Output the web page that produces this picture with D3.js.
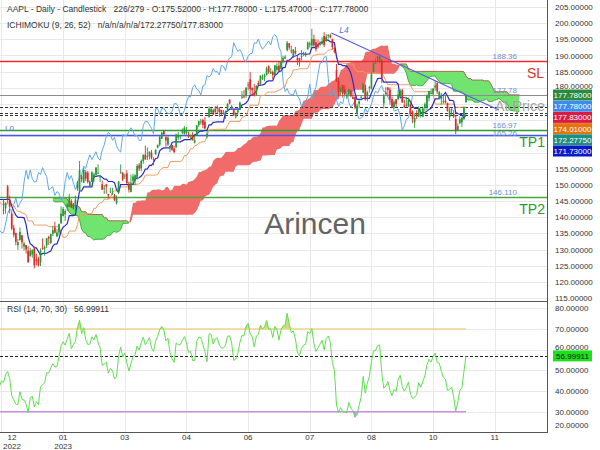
<!DOCTYPE html>
<html><head><meta charset="utf-8">
<script src="https://cdn.jsdelivr.net/npm/d3@7"></script>
<style>body{margin:0;background:#fff}svg{display:block;font-family:"Liberation Sans",Arial,sans-serif}</style>
</head><body><svg id="c" width="600" height="450"></svg>
<script>
// AAPL daily [open, high, low, close] – history before the visible window (Sep 26 – Dec 8 2022)
const priorBars = [
[149.66,153.77,149.64,150.77],[152.74,154.72,149.95,151.76],[147.64,150.64,144.84,149.84],[146.10,146.72,140.68,142.48],[141.28,143.10,138.00,138.20],
[138.21,143.07,137.69,142.45],[145.03,146.22,144.26,146.10],[144.07,147.38,143.01,146.40],[145.81,147.54,145.22,145.43],[142.54,143.10,139.45,140.09],
[140.42,141.89,138.57,140.42],[139.90,141.35,138.22,138.98],[139.13,140.36,138.16,138.34],[134.99,143.59,134.37,142.99],[144.31,144.52,138.19,138.38],
[141.07,142.90,140.27,142.41],[145.49,146.70,140.61,143.75],[141.69,144.95,141.50,143.86],[143.02,145.89,142.65,143.39],[142.87,147.85,142.65,147.27],
[147.19,150.23,146.00,149.45],[150.09,152.49,149.36,152.34],[150.96,151.99,148.04,149.35],[148.07,149.05,144.13,144.80],[148.20,157.50,147.82,155.74],
[153.16,154.24,151.92,153.34],
[155.08,155.45,149.13,150.65],[148.95,152.17,145.00,145.03],[142.06,142.80,138.75,138.88],[142.09,142.67,134.38,138.38],
[137.11,139.15,135.67,138.92],[140.41,141.43,137.49,139.50],[138.50,138.55,134.59,134.87],[141.24,146.87,139.50,146.87],[145.82,150.01,144.37,149.70],
[148.97,150.28,147.43,148.28],[152.22,153.59,148.56,150.04],[149.13,149.87,147.29,148.79],[146.43,151.48,146.15,150.72],[152.31,152.70,149.97,151.29],
[150.16,150.37,147.72,148.01],[148.13,150.42,146.93,150.18],[149.45,151.83,149.34,151.07],[148.31,148.88,147.12,148.11],
[145.14,146.64,143.38,144.22],[144.29,144.81,140.35,141.17],[141.40,148.72,140.55,148.03],
[148.21,149.13,146.61,148.31],[145.96,148.00,145.65,147.81],[147.77,150.92,145.77,146.63],[147.07,147.30,141.92,142.91],[142.19,143.37,140.00,140.94],[142.36,143.52,141.10,142.65]
];
// visible candles (Dec 9 2022 – Nov 2 2023)
const candles = [
[142.34,145.57,140.90,142.16],[142.70,144.50,141.06,144.49],[149.50,149.97,144.24,145.47],[145.35,146.66,141.16,143.21],[141.11,141.80,136.03,136.50],
[136.69,137.65,133.73,134.51],[135.11,135.20,131.32,132.37],[131.39,133.25,129.89,132.30],[132.98,136.81,132.75,135.45],[134.35,134.56,130.30,132.23],
[130.92,132.42,129.64,131.86],[131.38,131.41,128.72,130.03],[129.67,131.03,125.87,126.04],[127.99,130.48,127.73,129.61],[128.41,129.95,127.43,129.93],
[130.28,130.90,124.17,125.07],[126.89,128.66,125.08,126.36],[127.13,127.77,124.76,125.02],[126.01,130.29,124.89,129.62],[130.47,133.41,129.89,130.15],
[130.26,131.26,128.12,130.73],[131.25,133.51,130.46,133.49],[133.88,134.26,131.44,133.41],[132.03,134.92,131.66,134.76],[134.83,137.29,134.13,135.94],
[136.82,138.61,135.03,135.21],[134.08,136.25,133.77,135.27],[135.28,138.02,134.22,137.87],[138.12,143.32,137.90,141.11],[140.31,143.16,140.30,142.53],
[140.89,142.43,138.81,141.86],[143.17,144.25,141.90,143.96],[143.16,147.23,143.08,145.93],[144.96,145.55,142.85,143.00],[142.70,144.34,142.28,144.29],
[143.97,146.61,141.32,145.43],[148.90,151.18,148.17,150.82],[148.03,157.38,147.83,154.50],[152.57,153.10,150.78,151.73],[150.64,155.23,150.64,154.65],
[153.88,154.58,151.17,151.92],[153.78,154.33,150.42,150.87],[149.46,151.34,149.22,151.01],[150.95,154.26,150.92,153.85],[152.12,153.77,150.86,153.20],
[153.11,155.50,152.88,155.33],[153.51,156.33,153.35,153.71],[152.35,153.00,150.85,152.55],[150.20,151.30,148.41,148.48],[148.87,149.95,147.16,148.91],
[150.09,150.34,147.24,149.40],[147.11,147.19,145.72,146.71],[147.71,149.17,147.45,147.92],[147.05,149.08,146.83,147.41],
[146.83,147.23,145.01,145.31],[144.38,146.71,143.90,145.91],[148.04,151.11,147.33,151.03],[153.79,156.30,153.46,153.83],[153.70,154.03,151.13,151.60],
[152.81,153.47,151.83,152.87],[153.56,154.54,150.23,150.59],[150.21,150.94,147.61,148.50],[147.81,153.14,147.70,150.47],[151.28,153.40,150.10,152.59],
[151.19,153.25,149.92,152.99],[152.16,156.46,151.64,155.85],[156.08,156.74,154.28,155.00],[155.07,157.82,154.15,157.40],[157.32,159.40,156.54,159.28],
[159.30,162.14,157.81,157.83],[158.83,161.55,157.68,158.93],[158.86,160.34,157.85,160.25],[159.94,160.77,157.87,158.28],[157.97,158.49,155.98,157.65],
[159.37,161.05,159.35,160.77],[161.53,162.47,161.27,162.36],[162.44,165.00,161.91,164.90],
[164.27,166.29,164.22,166.17],[166.60,166.84,165.11,165.63],[164.74,165.05,161.80,163.76],[162.43,164.96,162.00,164.66],[161.42,162.03,160.08,162.03],
[162.35,162.36,160.51,160.80],[161.22,162.06,159.78,160.10],[161.63,165.80,161.42,165.56],[164.59,166.32,163.82,165.21],[165.09,165.39,164.03,165.23],
[166.10,167.41,165.65,166.47],[165.80,168.16,165.54,167.63],[166.09,167.87,165.56,166.65],[165.05,166.45,164.49,165.02],[165.00,165.60,163.89,165.33],
[165.19,166.31,163.73,163.77],[163.06,165.28,162.80,163.76],[165.19,168.56,165.19,168.41],[168.49,169.85,167.88,169.68],
[169.28,170.45,168.64,169.59],[170.09,170.35,167.54,168.54],[169.50,170.92,167.16,167.45],[164.89,167.04,164.31,165.79],[170.98,174.30,170.76,173.57],
[172.48,173.85,172.11,173.50],[173.05,173.54,171.60,171.77],[172.55,174.43,171.76,173.56],[173.85,174.59,172.17,173.75],[173.62,174.06,171.00,172.57],
[173.16,173.21,171.47,172.07],[171.99,173.14,171.80,172.07],[171.71,172.93,170.42,172.69],[173.00,175.24,172.58,175.05],[176.39,176.39,174.94,175.16],
[173.98,174.71,173.45,174.20],[173.13,173.38,171.28,171.56],[171.09,172.42,170.52,171.84],[172.41,173.90,171.69,172.99],[173.32,175.77,173.11,175.43],
[176.96,178.99,176.57,177.30],[177.33,179.35,176.76,177.25],
[177.70,180.12,176.93,180.09],[181.03,181.78,179.26,180.95],[182.63,184.95,178.04,179.58],[179.97,180.12,177.43,179.21],[178.44,181.21,177.32,177.82],
[177.90,180.84,177.46,180.57],[181.50,182.23,180.63,180.96],[181.27,183.89,180.97,183.79],[182.80,184.15,182.44,183.31],[183.37,184.39,182.02,183.95],
[183.96,186.52,183.78,186.01],[186.73,186.99,184.27,184.92],[184.41,186.10,184.41,185.01],[184.90,185.41,182.59,183.96],[183.74,187.05,183.67,187.00],
[185.55,187.56,185.01,186.68],[186.83,188.05,185.23,185.27],[185.89,188.39,185.67,188.06],[187.93,189.90,187.60,189.25],[189.08,190.07,188.94,189.59],
[191.63,194.48,191.26,193.97],
[193.78,193.88,191.76,192.46],[191.57,192.98,190.62,191.33],[189.84,192.02,189.20,191.81],[191.41,192.67,190.24,190.68],[189.26,189.99,187.04,188.61],
[189.16,189.30,186.60,188.08],[189.68,191.70,188.47,189.77],[190.50,191.19,189.78,190.54],[190.23,191.18,189.63,190.69],[191.90,194.32,191.81,193.99],
[193.35,194.33,192.42,193.73],[193.10,198.23,192.65,195.10],[195.09,196.47,192.50,193.13],[194.10,194.97,191.23,191.94],[193.41,194.91,192.25,192.75],
[193.33,194.44,192.92,193.62],[193.67,195.64,193.32,194.50],[196.02,197.20,192.55,193.22],[194.67,196.63,194.14,195.83],[196.06,196.49,195.26,196.45],
[196.24,196.73,195.28,195.61],[195.04,195.18,191.85,192.58],[191.57,192.37,190.69,191.17],[185.52,187.38,181.92,181.99],[182.13,183.13,177.35,178.85],
[179.69,180.27,177.58,179.80],[180.87,180.93,177.01,178.19],[179.48,180.75,177.60,177.97],[177.32,178.62,176.55,177.79],[177.97,179.69,177.31,179.46],
[178.88,179.48,177.05,177.45],[177.13,178.54,176.50,176.57],[177.14,177.51,173.48,174.00],[172.30,175.10,171.96,174.49],[175.07,176.13,173.74,175.84],
[177.06,177.68,176.25,177.23],[178.52,181.55,178.33,181.12],[180.67,181.10,176.01,176.38],[177.38,179.15,175.82,178.61],[180.09,180.59,178.55,180.19],
[179.70,184.90,179.50,184.12],[184.94,187.85,184.74,187.65],[187.84,189.12,187.48,187.87],
[189.49,189.92,188.28,189.46],[188.28,189.98,187.61,189.70],[188.40,188.85,181.47,182.91],[175.18,178.21,173.54,177.56],[178.35,180.24,177.79,178.18],
[180.07,180.30,177.34,179.36],[179.49,180.13,174.82,176.30],[176.51,177.30,173.98,174.21],[174.00,176.10,173.58,175.74],[176.48,176.50,173.82,175.01],
[176.48,179.38,176.17,177.97],[177.52,179.63,177.13,179.07],[179.26,179.70,175.40,175.49],[174.55,176.30,173.86,173.93],[174.67,177.08,174.05,174.79],
[174.20,176.97,174.15,176.08],[174.82,175.20,171.66,171.96],[172.62,173.04,169.05,170.43],[169.34,172.03,167.62,170.69],[172.02,173.07,170.34,171.21],
[171.22,174.30,170.93,173.75],[172.26,173.63,170.82,172.40],[171.09,174.21,170.97,173.66],[173.79,175.45,172.68,174.91],[173.80,177.99,173.18,177.49],
[176.81,179.05,175.80,178.99],[178.10,179.72,177.95,178.39],[178.20,179.85,177.60,179.80],[180.07,182.34,179.04,180.71],[181.42,181.93,178.14,178.85],
[176.75,179.08,176.51,178.72],[176.65,178.42,174.80,177.15],[175.58,177.58,175.11,175.84],[176.04,177.84,175.19,175.46],[175.31,175.42,172.64,172.88],
[170.91,174.01,169.93,173.00],[173.05,173.67,171.45,173.44],[171.88,173.06,170.65,171.10],[170.37,171.38,165.67,166.89],[166.91,168.96,166.83,168.22],
[169.02,171.17,168.87,170.29],[169.35,170.90,167.90,170.77],
[171.00,174.23,170.12,173.97],[175.52,177.78,175.47,177.78]
];
const priceTicks = [115,120,125,130,135,140,145,150,155,160,165,170,175,180,185,190,195,200,205];
const rsiTicks = [20,30,40,50,60,70,80];
const monthTickIdx = [-1,29,59,89,119,149,179,209,239];
const monthTickLabels = [["12","2022"],["01","2023"],["03"],["04"],["06"],["07"],["08"],["10"],["11"]];
const levelPrices = [188.36,177.78,166.97,165.26,146.11];
const levelTexts = ["188.36","177.78","166.97","165.26","146.110"];
const dashedLevels = [174.01,172.2775,171.73];
const axisBoxValues = [177.78,177.78,177.83,174.01,172.2775,171.73];
const trendIdx = [159.5,241];
const trendPrice = [196.96,173.16];
const rsiLast = 56.99911;
const headerLines = ["AAPL - Daily - Candlestick   226/279 - O:175.52000 - H:177.78000 - L:175.47000 - C:177.78000",
                     "ICHIMOKU (9, 26, 52)   n/a/n/a/n/a/172.27750/177.83000"];
const rsiTitle = "RSI (14, 70, 30)   56.99911";

// ---------- styles / layout ----------
const W = 547, mainTop = 0, mainBot = 301, rsiTop = 302, rsiBot = 432;
const levelStyle = [
  {c:"#ee2a2a", w:1.3, dy:-2},
  {c:"#8c8c8c", w:1.2, dy:-2},
  {c:"#2f9a2f", w:1.3, dy:-2},
  {c:"#4a55ee", w:1.6, dy:0.5},
  {c:"#4aa83a", w:1.3, dy:-2}
];
const levelTextColor = "#6d8fd8";
const boxColors = ["#2b8a3e","#3b8ced","#d81c48","#e5740e","#1b8f82","#0b18c6"];

const svg = d3.select("#c");
const x = d3.scaleLinear().domain([0,225]).range([3.5,466]);
const y = d3.scaleLinear().domain([115,205]).range([298,7]);
const yr = d3.scaleLinear().domain([30,70]).range([411.7,329]);

const all = priorBars.concat(candles);
const off = priorBars.length, N = all.length;
const Hh = all.map(d=>d[1]), Ll = all.map(d=>d[2]), Cc = all.map(d=>d[3]);
function mid(k,n){ if(k<n-1) return null; let hi=-Infinity, lo=Infinity;
  for(let j=k-n+1;j<=k;j++){ hi=Math.max(hi,Hh[j]); lo=Math.min(lo,Ll[j]); } return (hi+lo)/2; }
const tenkan=[], kijun=[], chikou=[], cloud=[];
for(let k=0;k<N;k++){
  const t=mid(k,9), kj=mid(k,26), b=mid(k,52);
  if(t!==null && k-off>=-3) tenkan.push({i:k-off,v:t});
  if(kj!==null && k-off>=-3) kijun.push({i:k-off,v:kj});
  if(k-off-26>=-3) chikou.push({i:k-off-26,v:Cc[k]});
  if(b!==null && kj!==null) cloud.push({i:k-off+26,a:(t+kj)/2,b:b});
}
const rsi=[]; let ag=0, al=0;
for(let k=1;k<N;k++){
  const ch=Cc[k]-Cc[k-1], g=Math.max(ch,0), l=Math.max(-ch,0);
  if(k<=14){ ag+=g/14; al+=l/14; if(k===14) rsi.push({i:k-off,v:100-100/(1+ag/al)}); }
  else { ag=(ag*13+g)/14; al=(al*13+l)/14; rsi.push({i:k-off,v:al===0?100:100-100/(1+ag/al)}); }
}
const rsiVis = rsi.filter(d=>d.i>=-2);

const defs = svg.append("defs");
defs.append("clipPath").attr("id","mainClip").append("rect").attr("x",0).attr("y",mainTop).attr("width",W).attr("height",mainBot-mainTop);
defs.append("clipPath").attr("id","rsiClip").append("rect").attr("x",0).attr("y",rsiTop).attr("width",W).attr("height",rsiBot-rsiTop);
defs.append("clipPath").attr("id","belowA").append("path")
  .attr("d", d3.area().x(d=>x(d.i)).y0(mainBot).y1(d=>y(d.a))(cloud));
defs.append("clipPath").attr("id","aboveA").append("path")
  .attr("d", d3.area().x(d=>x(d.i)).y0(mainTop).y1(d=>y(d.a))(cloud));

// ---------- grid ----------
const grid = svg.append("g").attr("stroke","#e9e9e9").attr("stroke-width",1);
priceTicks.forEach(p=>grid.append("line").attr("x1",0).attr("x2",W).attr("y1",Math.round(y(p))+0.5).attr("y2",Math.round(y(p))+0.5));
rsiTicks.forEach(p=>{ if(yr(p)<rsiBot) grid.append("line").attr("x1",0).attr("x2",W).attr("y1",Math.round(yr(p))+0.5).attr("y2",Math.round(yr(p))+0.5); });
monthTickIdx.forEach(i=>{ const xx=Math.round(x(i))+0.5;
  grid.append("line").attr("x1",xx).attr("x2",xx).attr("y1",0).attr("y2",rsiBot); });

// ---------- main panel ----------
const main = svg.append("g").attr("clip-path","url(#mainClip)");
const areaAB = d3.area().x(d=>x(d.i)).y0(d=>y(d.a)).y1(d=>y(d.b));
main.append("path").attr("d",areaAB(cloud)).attr("fill","#f26b6b").attr("clip-path","url(#belowA)");
main.append("path").attr("d",areaAB(cloud)).attr("fill","#70e46e").attr("clip-path","url(#aboveA)");
main.append("path").attr("d",d3.line().defined(d=>d.a<=d.b).x(d=>x(d.i)).y(d=>y(d.b))(cloud))
  .attr("fill","none").attr("stroke","#b2604c").attr("stroke-width",1);
main.append("path").attr("d",d3.line().defined(d=>d.a<=d.b).x(d=>x(d.i)).y(d=>y(d.a))(cloud))
  .attr("fill","none").attr("stroke","#3fae3f").attr("stroke-width",1);

// level lines
levelPrices.forEach((p,j)=>{ const yy=Math.round(y(p))+0.5;
  main.append("line").attr("x1",0).attr("x2",W).attr("y1",yy).attr("y2",yy)
    .attr("stroke",levelStyle[j].c).attr("stroke-width",levelStyle[j].w); });
dashedLevels.forEach(p=>{ const yy=Math.round(y(p))+0.5;
  main.append("line").attr("x1",0).attr("x2",W).attr("y1",yy).attr("y2",yy)
    .attr("stroke","#333").attr("stroke-width",1).attr("stroke-dasharray","3,2"); });

// ichimoku lines
const ln = d3.line().x(d=>x(d.i)).y(d=>y(d.v));
main.append("path").attr("d",ln(chikou)).attr("fill","none").attr("stroke","#5fa9ee").attr("stroke-width",1);
main.append("path").attr("d",ln(kijun)).attr("fill","none").attr("stroke","#f39a5c").attr("stroke-width",1);
main.append("path").attr("d",ln(tenkan)).attr("fill","none").attr("stroke","#2b2bc8").attr("stroke-width",1.2);

// candles
const cg = main.append("g");
candles.forEach((d,i)=>{
  const up = d[3]>=d[0], col = up ? "#239a33" : "#dc2b2b";
  const xx = x(i);
  cg.append("line").attr("x1",xx).attr("x2",xx).attr("y1",y(d[1])).attr("y2",y(d[2])).attr("stroke",col).attr("stroke-width",0.9);
  const y1=y(Math.max(d[0],d[3])), y2=y(Math.min(d[0],d[3]));
  cg.append("rect").attr("x",xx-0.85).attr("width",1.7).attr("y",y1).attr("height",Math.max(0.8,y2-y1)).attr("fill",col);
});

// trend line L4
main.append("line").attr("x1",x(trendIdx[0])).attr("y1",y(trendPrice[0])).attr("x2",x(trendIdx[1])).attr("y2",y(trendPrice[1]))
  .attr("stroke","#5b5be2").attr("stroke-width",1.2);
main.append("text").attr("x",x(trendIdx[0])+8).attr("y",y(trendPrice[0])).attr("font-size",8.5).attr("font-style","italic")
  .attr("fill","#5b6fd8").text("L4");

// labels on levels
levelPrices.forEach((p,j)=>{
  main.append("text").attr("x",517).attr("y",y(p)+levelStyle[j].dy).attr("text-anchor","end").attr("font-size",8)
    .attr("fill",levelTextColor).text(levelTexts[j]); });
main.append("text").attr("x",5).attr("y",y(levelPrices[3])-4).attr("font-size",8).attr("fill","#5b6fd8").text("L0");
main.append("text").attr("x",544).attr("y",y(levelPrices[0])+17).attr("text-anchor","end").attr("font-size",14).attr("fill","#e2302a").text("SL");
main.append("text").attr("x",545).attr("y",y(levelPrices[3])+12).attr("text-anchor","end").attr("font-size",14).attr("fill","#2f962f").text("TP1");
main.append("text").attr("x",545).attr("y",y(levelPrices[4])+17).attr("text-anchor","end").attr("font-size",14).attr("fill","#2f962f").text("TP2");
main.append("text").attr("x",545).attr("y",111).attr("text-anchor","end").attr("font-size",14.3).attr("fill","#a3a3a3").text("At Price");
svg.append("text").attr("x",315).attr("y",234).attr("text-anchor","middle").attr("font-size",30).attr("fill","#646464").text("Arincen");

// ---------- RSI panel ----------
const rg = svg.append("g").attr("clip-path","url(#rsiClip)");
rg.append("path").attr("d",d3.area().x(d=>x(d.i)).y0(yr(70)).y1(d=>yr(Math.max(70,d.v)))(rsiVis)).attr("fill","#c9df7a");
rg.append("path").attr("d",d3.area().x(d=>x(d.i)).y0(yr(30)).y1(d=>yr(Math.min(30,d.v)))(rsiVis)).attr("fill","#c9a0ee");
rg.append("line").attr("x1",0).attr("x2",x(225)).attr("y1",yr(70)).attr("y2",yr(70)).attr("stroke","#f3d38c").attr("stroke-width",1.5);
rg.append("line").attr("x1",0).attr("x2",x(225)).attr("y1",yr(30)).attr("y2",yr(30)).attr("stroke","#c990ee").attr("stroke-width",1.5);
rg.append("line").attr("x1",0).attr("x2",W).attr("y1",Math.round(yr(rsiLast))+0.5).attr("y2",Math.round(yr(rsiLast))+0.5)
  .attr("stroke","#222").attr("stroke-width",1).attr("stroke-dasharray","3,2");
rg.append("path").attr("d",d3.line().x(d=>x(d.i)).y(d=>yr(d.v))(rsiVis)).attr("fill","none").attr("stroke","#5fe050").attr("stroke-width",1);

// ---------- frames ----------
svg.append("line").attr("x1",0).attr("x2",W).attr("y1",mainBot+0.5).attr("y2",mainBot+0.5).attr("stroke","#555");
svg.append("line").attr("x1",0).attr("x2",W).attr("y1",rsiBot+0.5).attr("y2",rsiBot+0.5).attr("stroke","#555");
svg.append("line").attr("x1",W+0.5).attr("x2",W+0.5).attr("y1",0).attr("y2",rsiBot+1).attr("stroke","#555");

// ---------- axis boxes positions ----------
const boxY = []; let prevY = -Infinity;
axisBoxValues.forEach(v=>{ const cy = Math.max(y(v), prevY+11.2); boxY.push(cy); prevY = cy; });
const boxTop = boxY[0]-5.5, boxBot = boxY[boxY.length-1]+5.5;
const rsiBoxY = yr(rsiLast), rsiBoxTop = rsiBoxY-5.5;

// ---------- axes text ----------
const ax = svg.append("g").attr("font-size",8).attr("fill","#333");
priceTicks.forEach(p=>{ const yy=y(p);
  if(yy>boxTop+2 && yy<boxBot+4) return; // hidden behind the value boxes
  let base = yy+3;
  if(base>boxTop-0.5 && base<boxBot) base = boxTop-0.5;
  ax.append("text").attr("x",555).attr("y",base).text(p.toFixed(5)); });
rsiTicks.forEach(p=>{ let base = Math.min(yr(p)+3,428);
  if(base>rsiBoxTop-0.5 && base<rsiBoxY+5.5) base = rsiBoxTop-0.5;
  ax.append("text").attr("x",555).attr("y",base).text(p.toFixed(5)); });
monthTickIdx.forEach((i,j)=>{
  const xx = Math.max(12, x(i));
  monthTickLabels[j].forEach((t,r)=>ax.append("text").attr("x",xx).attr("y",440+r*9).attr("text-anchor","middle").text(t));
});
axisBoxValues.forEach((v,j)=>{
  const cy = boxY[j];
  svg.append("rect").attr("x",553).attr("y",cy-5.5).attr("width",39).attr("height",11).attr("fill",boxColors[j]);
  svg.append("text").attr("x",572.5).attr("y",cy+3).attr("text-anchor","middle").attr("font-size",8).attr("fill","#fff").text(v.toFixed(5));
});
svg.append("rect").attr("x",553).attr("y",rsiBoxTop).attr("width",39).attr("height",11).attr("fill","#1fe01f");
svg.append("text").attr("x",572.5).attr("y",rsiBoxY+3).attr("text-anchor","middle").attr("font-size",8).attr("fill","#111").text(rsiLast.toFixed(5));

// ---------- headers ----------
headerLines.forEach((t,j)=>svg.append("text").attr("x",7).attr("y",12+j*16).attr("font-size",8.5).attr("fill","#333")
  .style("white-space","pre").text(t));
svg.append("text").attr("x",7).attr("y",312).attr("font-size",8.5).attr("fill","#333").style("white-space","pre").text(rsiTitle);
</script></body></html>
